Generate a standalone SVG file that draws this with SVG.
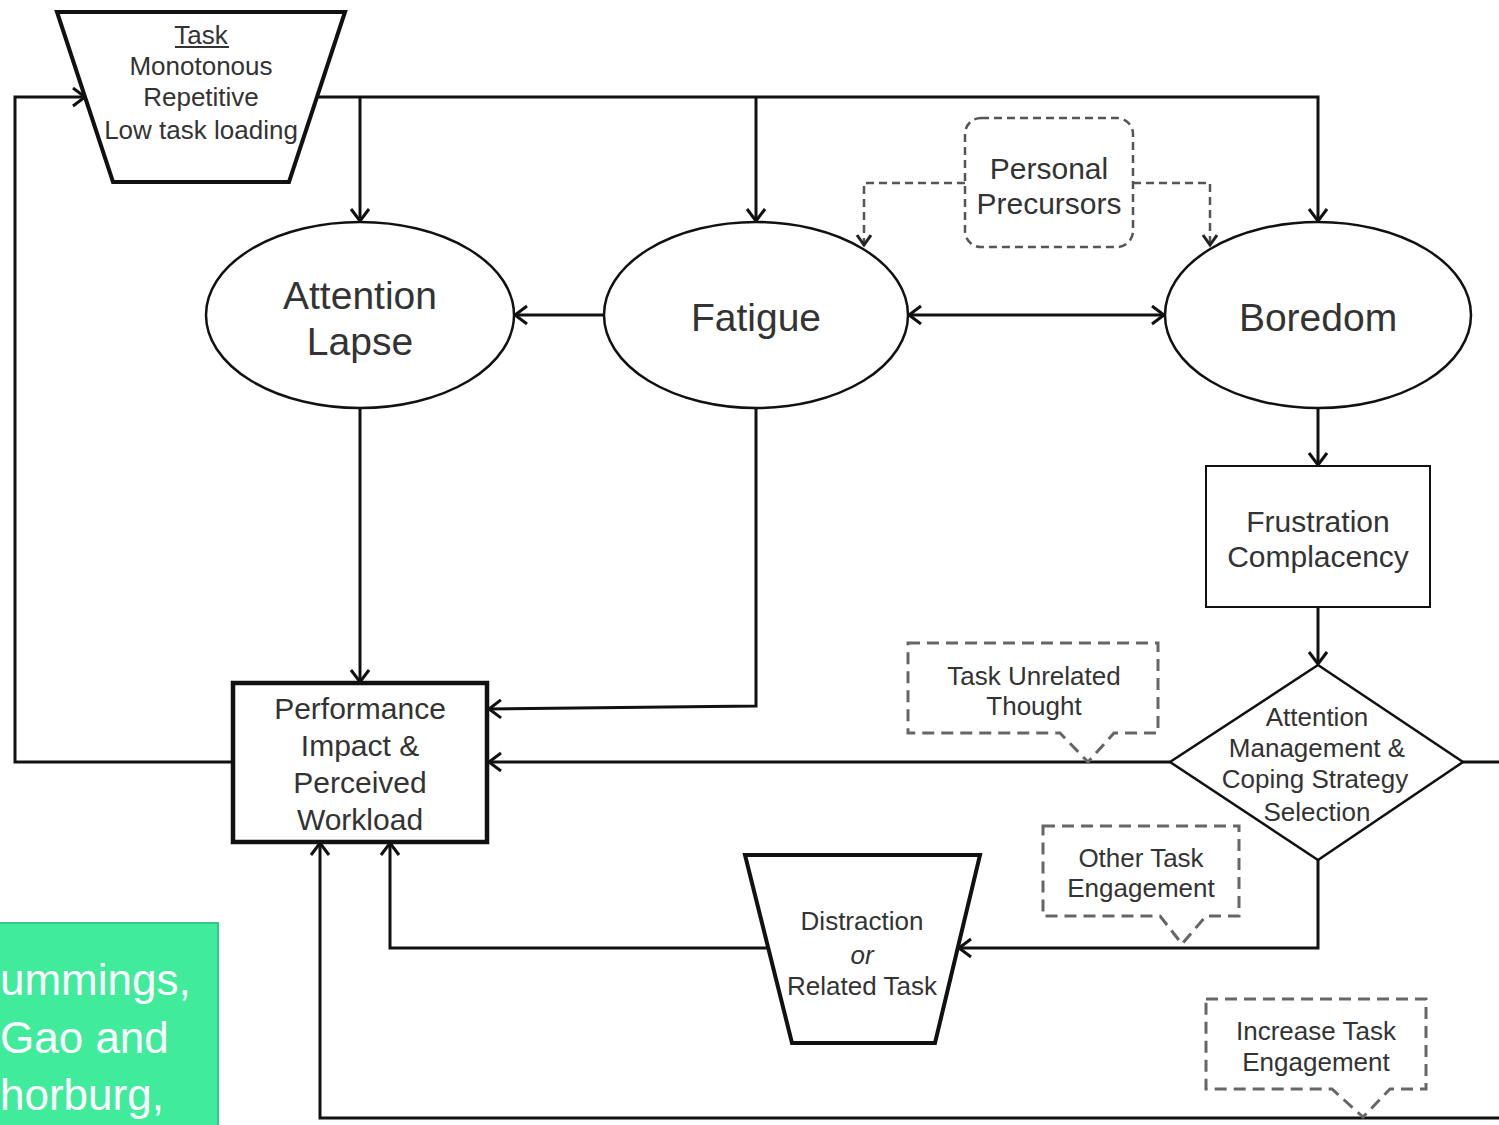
<svg xmlns="http://www.w3.org/2000/svg" width="1499" height="1125" viewBox="0 0 1499 1125">
<defs>
<marker id="arr" markerUnits="userSpaceOnUse" markerWidth="30" markerHeight="30" refX="14" refY="10" orient="auto">
<path d="M2,1 L14,10 L2,19" fill="none" stroke="#111" stroke-width="3"/>
</marker>
<marker id="arrs" markerUnits="userSpaceOnUse" markerWidth="30" markerHeight="30" refX="11" refY="8" orient="auto">
<path d="M1,1 L11,8 L1,15" fill="none" stroke="#222" stroke-width="3"/>
</marker>
<marker id="arrst" markerUnits="userSpaceOnUse" markerWidth="30" markerHeight="30" refX="14" refY="10" orient="auto-start-reverse">
<path d="M2,1 L14,10 L2,19" fill="none" stroke="#111" stroke-width="3"/>
</marker>
</defs>
<style>
text{font-family:"Liberation Sans",Arial,sans-serif;fill:#333;text-anchor:middle}
.c{fill:none;stroke:#111;stroke-width:3}
.d{fill:none;stroke:#666;stroke-width:3;stroke-dasharray:12 7}
.dp{fill:none;stroke:#555;stroke-width:2.5;stroke-dasharray:8 5}
.s26{font-size:26px}
.s30{font-size:30px}
.s39{font-size:39px}
.node{fill:#fff;stroke:#111}
.cite{fill:#fff;text-anchor:start;font-size:44px}
</style>
<rect width="1499" height="1125" fill="#fff"/>
<g id="connectors">
<polyline class="c" points="233,762 15,762 15,97 85,97" marker-end="url(#arr)"/>
<polyline class="c" points="317,97 1318,97 1318,221" marker-end="url(#arr)"/>
<line class="c" x1="360" y1="97" x2="360" y2="221" marker-end="url(#arr)"/>
<line class="c" x1="756" y1="97" x2="756" y2="221" marker-end="url(#arr)"/>
<line class="c" x1="603" y1="315" x2="515" y2="315" marker-end="url(#arr)"/>
<line class="c" x1="909" y1="315" x2="1164" y2="315" marker-start="url(#arrst)" marker-end="url(#arr)"/>
<polyline class="dp" points="965,183 864,183 864,245" marker-end="url(#arrs)"/>
<polyline class="dp" points="1133,183 1210,183 1210,245" marker-end="url(#arrs)"/>
<line class="c" x1="360" y1="408" x2="360" y2="682" marker-end="url(#arr)"/>
<polyline class="c" points="756,408 756,706 489,709" marker-end="url(#arr)"/>
<line class="c" x1="1318" y1="408" x2="1318" y2="465" marker-end="url(#arr)"/>
<line class="c" x1="1318" y1="607" x2="1318" y2="664" marker-end="url(#arr)"/>
<line class="c" x1="1170" y1="762" x2="489" y2="762" marker-end="url(#arr)"/>
<line class="c" x1="1463" y1="762" x2="1499" y2="762"/>
<polyline class="c" points="1318,860 1318,948 959,948" marker-end="url(#arr)"/>
<polyline class="c" points="768,948 390,948 390,843" marker-end="url(#arr)"/>
<polyline class="c" points="1499,1118 320,1118 320,843" marker-end="url(#arr)"/>
</g>
<g id="task">
<polygon class="node" stroke-width="4" points="57,12 345,12 289,182 113,182"/>
<text class="s26" x="201" y="44">Task</text>
<line x1="175" y1="47" x2="229" y2="47" stroke="#333" stroke-width="2"/>
<text class="s26" x="201" y="75">Monotonous</text>
<text class="s26" x="201" y="106">Repetitive</text>
<text class="s26" x="201" y="139">Low task loading</text>
</g>
<g id="attention-lapse">
<ellipse class="node" stroke-width="2.5" cx="360" cy="315" rx="154" ry="93"/>
<text class="s39" x="360" y="309">Attention</text>
<text class="s39" x="360" y="355">Lapse</text>
</g>
<g id="fatigue">
<ellipse class="node" stroke-width="2.5" cx="756" cy="315" rx="152" ry="93"/>
<text class="s39" x="756" y="331">Fatigue</text>
</g>
<g id="boredom">
<ellipse class="node" stroke-width="2.5" cx="1318" cy="315" rx="153" ry="93"/>
<text class="s39" x="1318" y="331">Boredom</text>
</g>
<g id="personal-precursors">
<rect class="dp" x="965" y="118" width="168" height="129" rx="16"/>
<text class="s30" x="1049" y="179">Personal</text>
<text class="s30" x="1049" y="214">Precursors</text>
</g>
<g id="performance">
<rect class="node" stroke-width="4.5" x="233" y="683" width="254" height="159"/>
<text class="s30" x="360" y="719">Performance</text>
<text class="s30" x="360" y="756">Impact &amp;</text>
<text class="s30" x="360" y="793">Perceived</text>
<text class="s30" x="360" y="830">Workload</text>
</g>
<g id="frustration">
<rect class="node" stroke="#333" stroke-width="2" x="1206" y="466" width="224" height="141"/>
<text class="s30" x="1318" y="532">Frustration</text>
<text class="s30" x="1318" y="567">Complacency</text>
</g>
<g id="attention-management">
<polygon class="node" stroke="#222" stroke-width="2.5" points="1318,665 1463,762 1318,860 1170,762"/>
<text class="s26" x="1317" y="726">Attention</text>
<text class="s26" x="1317" y="757">Management &amp;</text>
<text class="s26" x="1315" y="788">Coping Strategy</text>
<text class="s26" x="1317" y="821">Selection</text>
</g>
<g id="distraction">
<polygon class="node" stroke-width="4" points="745,855 980,855 935,1043 792,1043"/>
<text class="s26" x="862" y="930">Distraction</text>
<text class="s26" x="862" y="964" font-style="italic">or</text>
<text class="s26" x="862" y="995">Related Task</text>
</g>
<g id="task-unrelated-thought">
<path class="d" d="M908,643 H1158 V733 H1114 L1088,762 L1060,733 H908 Z"/>
<text class="s26" x="1034" y="685">Task Unrelated</text>
<text class="s26" x="1034" y="715">Thought</text>
</g>
<g id="other-task-engagement">
<path class="d" d="M1043,826 H1239 V916 H1206 L1182,944 L1160,916 H1043 Z"/>
<text class="s26" x="1141" y="867">Other Task</text>
<text class="s26" x="1141" y="897">Engagement</text>
</g>
<g id="increase-task-engagement">
<path class="d" d="M1206,999 H1426 V1089 H1390 L1363,1117 L1332,1089 H1206 Z"/>
<text class="s26" x="1316" y="1040">Increase Task</text>
<text class="s26" x="1316" y="1071">Engagement</text>
</g>
<g id="citation">
<rect x="-2" y="923" width="220" height="204" fill="#40EB9C" stroke="#38c585" stroke-width="2"/>
<text class="cite" x="0" y="995">ummings,</text>
<text class="cite" x="0" y="1053">Gao and</text>
<text class="cite" x="0" y="1110">horburg,</text>
</g>
</svg>
